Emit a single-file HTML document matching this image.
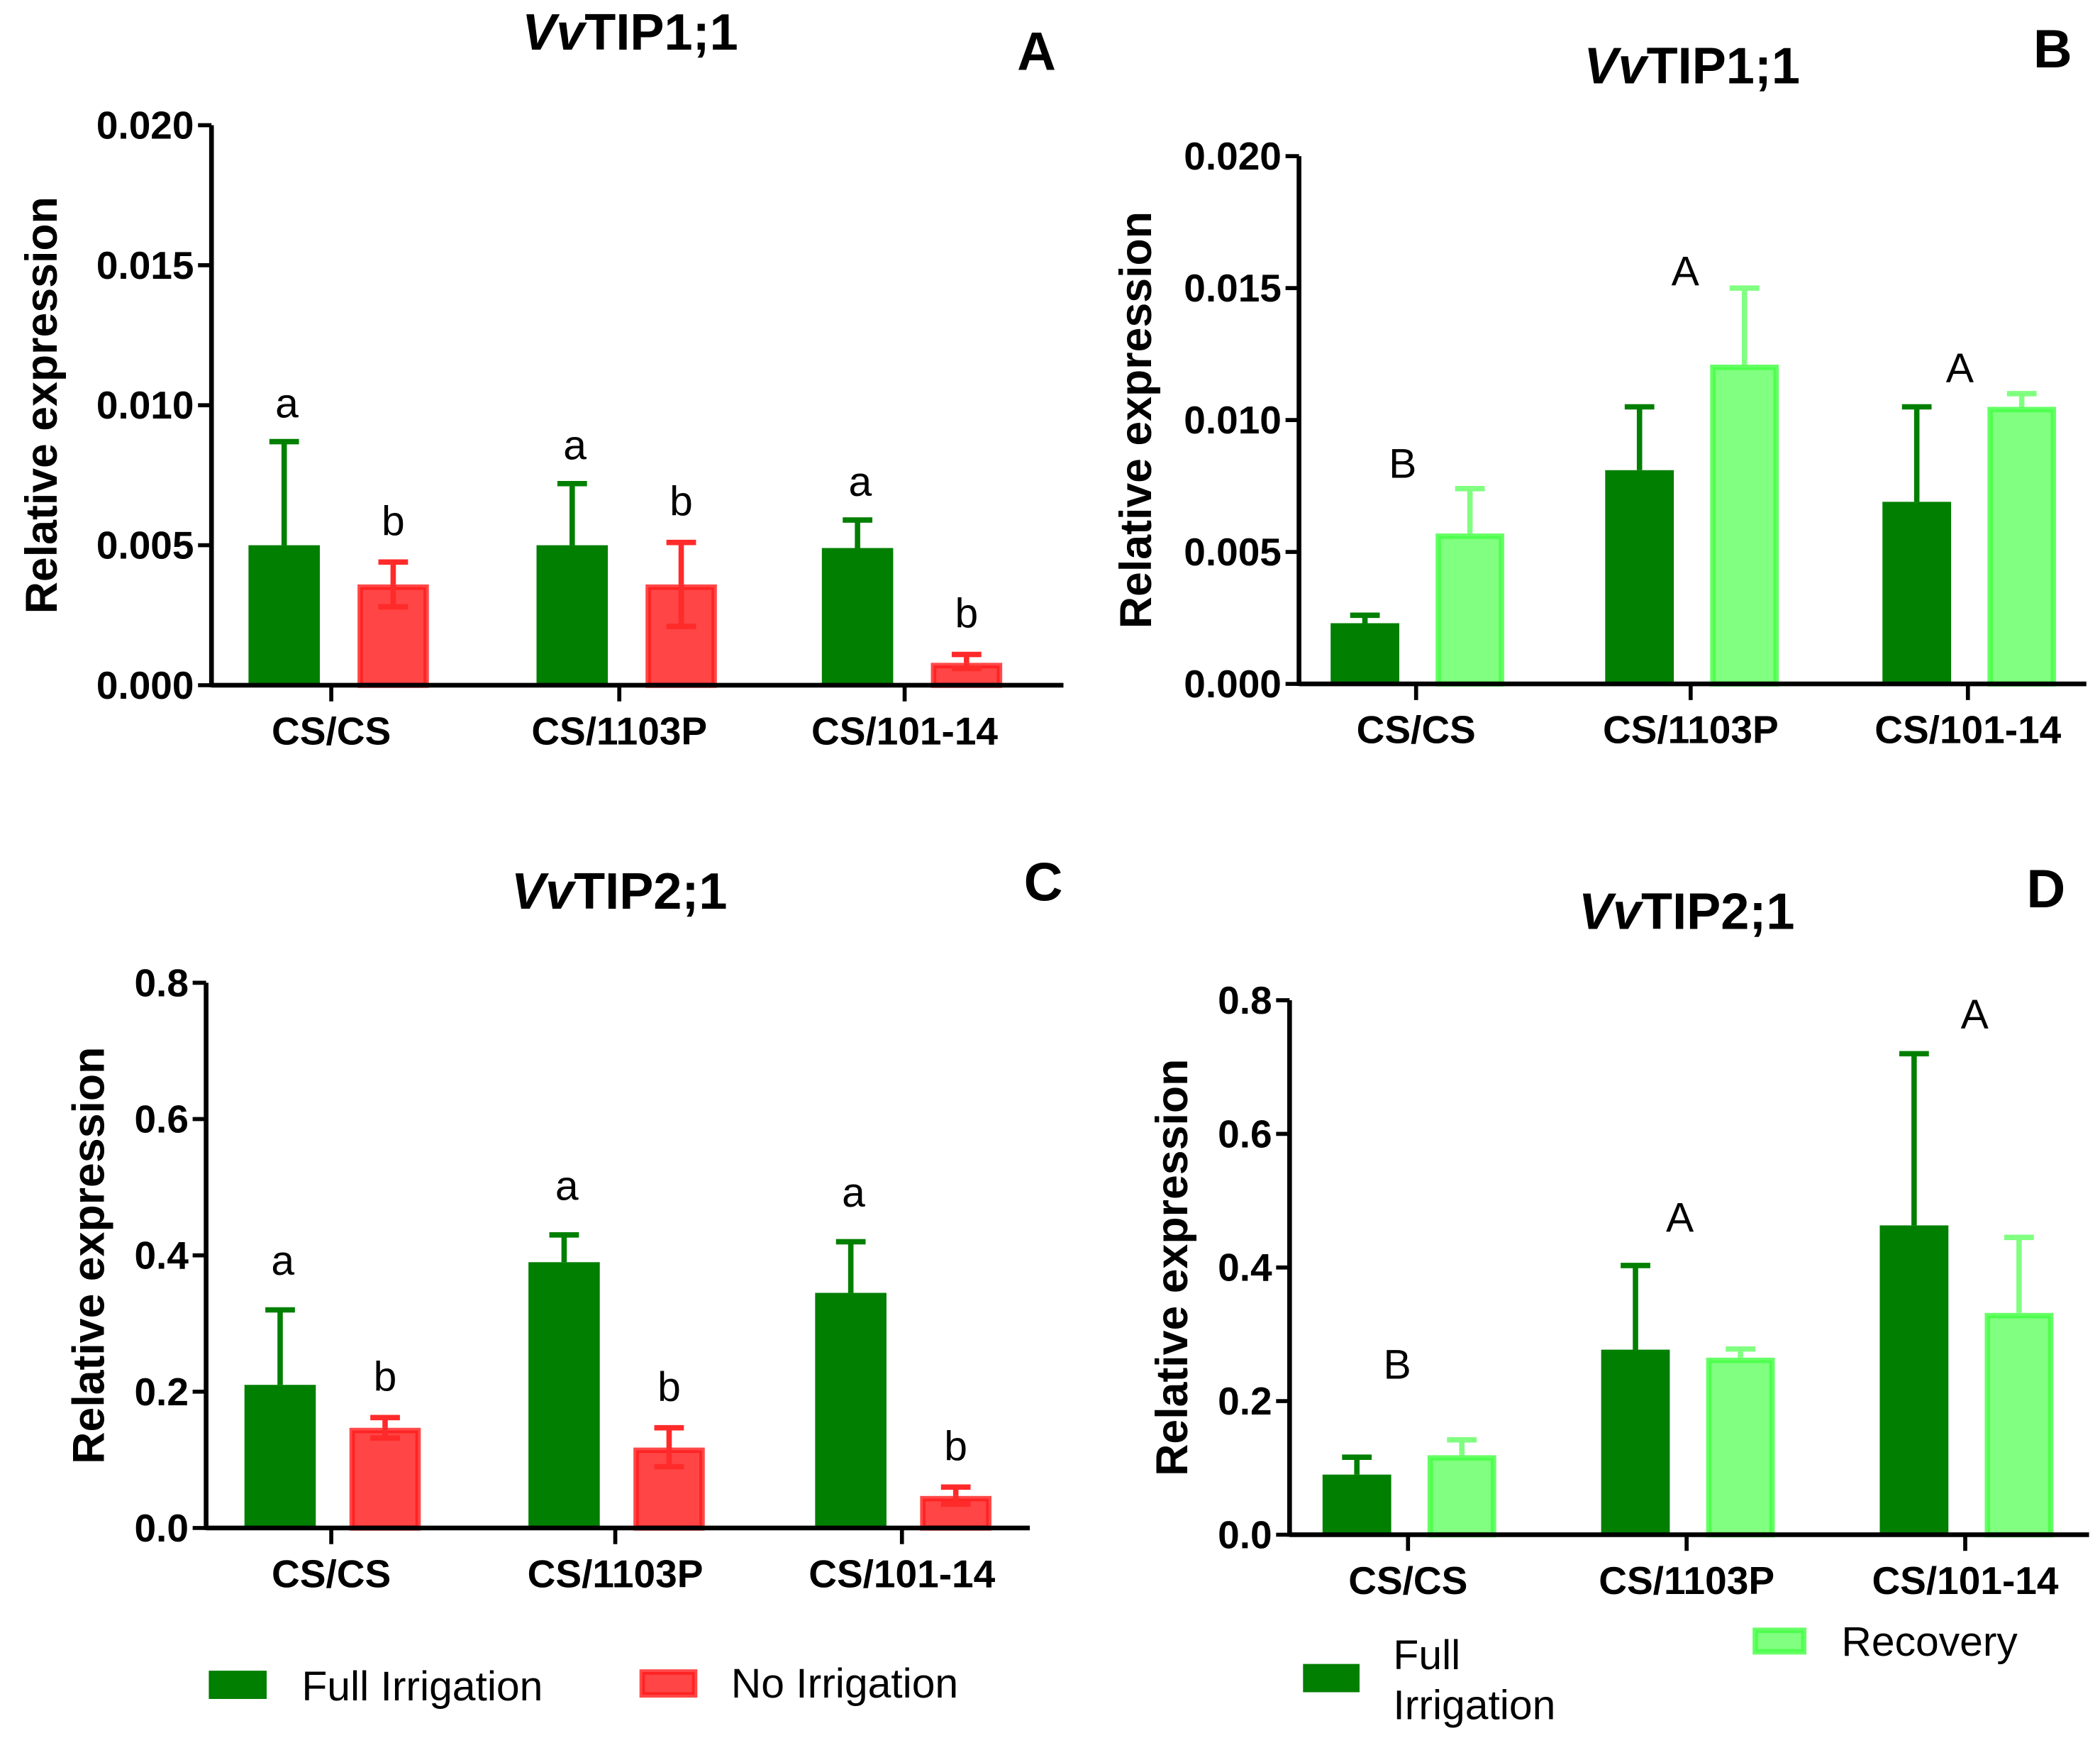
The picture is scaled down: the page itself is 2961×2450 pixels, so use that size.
<!DOCTYPE html>
<html><head><meta charset="utf-8"><style>
html,body{margin:0;padding:0;background:#fff}
svg{display:block}
text{font-family:"Liberation Sans Narrow","Liberation Sans",sans-serif}
</style></head><body>
<svg id="fig" width="2961" height="2450" viewBox="0 0 1560 1291" xmlns="http://www.w3.org/2000/svg"></svg>
<script>
const categories = ["CS/CS","CS/1103P","CS/101-14"];
const aFull = [0.0050,0.0050,0.0049];
const aFullErr = [0.0087,0.0072,0.0059];
const aNo = [0.0036,0.0036,0.0008];
const aNoErrHi = [0.0044,0.0051,0.0011];
const aNoErrLo = [0.0028,0.0021,0.0006];
const aLetters1 = ["a","a","a"];
const aLetters2 = ["b","b","b"];
const bFull = [0.0023,0.0081,0.0069];
const bFullErr = [0.0026,0.0105,0.0105];
const bRec = [0.0057,0.0121,0.0105];
const bRecErr = [0.0074,0.0150,0.0110];
const bLetters = ["B","A","A"];
const cFull = [0.21,0.39,0.345];
const cFullErr = [0.32,0.43,0.42];
const cNo = [0.147,0.118,0.047];
const cNoErrHi = [0.162,0.147,0.060];
const cNoErrLo = [0.132,0.090,0.035];
const cLetters1 = ["a","a","a"];
const cLetters2 = ["b","b","b"];
const dFull = [0.090,0.277,0.463];
const dFullErr = [0.116,0.403,0.720];
const dRec = [0.119,0.265,0.332];
const dRecErr = [0.142,0.278,0.445];
const dLetters = ["B","A","A"];
const ticksSmall = [0,0.005,0.010,0.015,0.020];
const ticksSmallLabels = ["0.000","0.005","0.010","0.015","0.020"];
const ticksBig = [0,0.2,0.4,0.6,0.8];
const ticksBigLabels = ["0.0","0.2","0.4","0.6","0.8"];

const NS="http://www.w3.org/2000/svg";
const svg=document.getElementById('fig');
function el(tag,attrs,parent,text){const e=document.createElementNS(NS,tag);for(const k in attrs)e.setAttribute(k,attrs[k]);if(text!==undefined)e.textContent=text;(parent||svg).appendChild(e);return e;}

function panel(cfg){
  const g=el('g',{});
  
  
  const y=v=>cfg.y0-(v/cfg.max)*(cfg.y0-cfg.yTop);
  const t=el('text',{x:cfg.titleX,y:cfg.titleY,'text-anchor':'middle','font-size':38,'font-weight':'bold'},g);
  
  
  el('tspan',{'font-style':'italic'},t,'Vv');
  el('tspan',{},t,cfg.title);
  const pl=el('text',{x:cfg.letterX,y:cfg.letterY,'text-anchor':'middle','font-size':40,'font-weight':'bold'},g,cfg.letter);
  
  
  const yl=el('text',{transform:`translate(${cfg.ylabX},${(cfg.y0+cfg.yTop)/2}) rotate(-90)`,'text-anchor':'middle','font-size':33,'font-weight':'bold',style:'font-family:"Liberation Sans",sans-serif'},g,'Relative expression');
  
  
  function bar(cx,v,fill,stroke,cls){
    const w=cfg.bw;
    if(stroke){
      const r=el('rect',{x:cx-w/2+2,y:y(v)+2,width:w-4,height:cfg.y0-y(v)-2,fill:fill,stroke:stroke,'stroke-width':4,'stroke-opacity':0.8},g);
      
      
    } else {
      const r=el('rect',{x:cx-w/2,y:y(v),width:w,height:cfg.y0-y(v),fill:fill},g);
      
      
    }
  }
  function err(cx,from,to,color){
    const l=el('line',{x1:cx,x2:cx,y1:y(from),y2:y(to),stroke:color,'stroke-width':4},g);
    
    
    const c=el('line',{x1:cx-11,x2:cx+11,y1:y(to),y2:y(to),stroke:color,'stroke-width':4},g);
    
    
  }
  function letterAt(x,yy,s){
    const lt=el('text',{x:x,y:yy,'text-anchor':'middle','font-size':31,style:'font-family:"Liberation Sans",sans-serif'},g,s);
    
    
  }
  categories.forEach((c,i)=>{
    const cx=cfg.cats[i];
    const g1=cx+cfg.off1, g2=cx+cfg.off2;
    bar(g1,cfg.s1[i],'#007f00',null,'bar-full-irrigation');
    err(g1,cfg.s1[i],cfg.e1[i],'#007f00');
    bar(g2,cfg.s2[i],cfg.fill2,cfg.stroke2,cfg.name2);
    err(g2,cfg.s2[i],cfg.e2hi[i],cfg.err2);
    if(cfg.e2lo) err(g2,cfg.s2[i],cfg.e2lo[i],cfg.err2);
    if(cfg.l1) letterAt(g1+2,y(cfg.e1[i])-cfg.l1Off,cfg.l1[i]);
    if(cfg.l2) letterAt(g2,y(cfg.e2hi[i])-20,cfg.l2[i]);
    if(cfg.lg) letterAt(cx+cfg.lgOff[i],cfg.lgY[i],cfg.lg[i]);
    const tk=el('line',{x1:cx,x2:cx,y1:cfg.y0,y2:cfg.y0+12,stroke:'#000','stroke-width':3},g);
    
    
    const xl=el('text',{x:cx,y:cfg.y0+44,'text-anchor':'middle','font-size':29,'font-weight':'bold'},g,c);
    
    
  });
  const ya=el('line',{x1:cfg.ax,x2:cfg.ax,y1:cfg.yTop,y2:cfg.y0+1.5,stroke:'#000','stroke-width':3.5},g);
  
  
  const xa=el('line',{x1:cfg.ax,x2:cfg.xEnd,y1:cfg.y0,y2:cfg.y0,stroke:'#000','stroke-width':3.5},g);
  
  
  cfg.ticks.forEach((v,i)=>{
    const tk=el('line',{x1:cfg.ax-10,x2:cfg.ax,y1:y(v),y2:y(v),stroke:'#000','stroke-width':3},g);
    
    
    const tl=el('text',{x:cfg.ax-13,y:y(v)+10,'text-anchor':'end','font-size':29,'font-weight':'bold'},g,cfg.tickLabels[i]);
    
    
  });
}

panel({name:'panel-a',name2:'bar-no-irrigation',title:'TIP1;1',titleX:468,titleY:37,letter:'A',letterX:770,letterY:52,ylabX:42,
  ax:157,xEnd:790,y0:509,yTop:93,max:0.020,cats:[246,460,672],off1:-35,off2:46,bw:53,
  s1:aFull,e1:aFullErr,s2:aNo,e2hi:aNoErrHi,e2lo:aNoErrLo,fill2:'#ff4545',stroke2:'#ff1a1a',err2:'#ff2a2a',
  l1:aLetters1,l1Off:18,l2:aLetters2,ticks:ticksSmall,tickLabels:ticksSmallLabels});
panel({name:'panel-b',name2:'bar-recovery',title:'TIP1;1',titleX:1257,titleY:62,letter:'B',letterX:1525,letterY:50,ylabX:855,
  ax:965,xEnd:1550,y0:508,yTop:116,max:0.020,cats:[1052,1256,1462],off1:-38,off2:40,bw:51,
  s1:bFull,e1:bFullErr,s2:bRec,e2hi:bRecErr,fill2:'#80ff80',stroke2:'#40ff40',err2:'#80ff80',
  lg:bLetters,lgOff:[-10,-4,-6],lgY:[355,212,284],ticks:ticksSmall,tickLabels:ticksSmallLabels});
panel({name:'panel-c',name2:'bar-no-irrigation',title:'TIP2;1',titleX:460,titleY:675,letter:'C',letterX:775,letterY:669,ylabX:77,
  ax:153,xEnd:765,y0:1135,yTop:730,max:0.8,cats:[246,457,670],off1:-38,off2:40,bw:53,
  s1:cFull,e1:cFullErr,s2:cNo,e2hi:cNoErrHi,e2lo:cNoErrLo,fill2:'#ff4545',stroke2:'#ff1a1a',err2:'#ff2a2a',
  l1:cLetters1,l1Off:26,l2:cLetters2,ticks:ticksBig,tickLabels:ticksBigLabels});
panel({name:'panel-d',name2:'bar-recovery',title:'TIP2;1',titleX:1253,titleY:690,letter:'D',letterX:1520,letterY:674,ylabX:882,
  ax:958,xEnd:1552,y0:1140,yTop:743,max:0.8,cats:[1046,1253,1460],off1:-38,off2:40,bw:51,
  s1:dFull,e1:dFullErr,s2:dRec,e2hi:dRecErr,fill2:'#80ff80',stroke2:'#40ff40',err2:'#80ff80',
  lg:dLetters,lgOff:[-8,-5,7],lgY:[1024,915,764],ticks:ticksBig,tickLabels:ticksBigLabels});

function legendBox(x,y,w,h,fill,stroke,name){
  const r=el('rect',stroke?{x:x+2,y:y+2,width:w-4,height:h-4,fill:fill,stroke:stroke,'stroke-width':4,'stroke-opacity':0.8}:{x:x,y:y,width:w,height:h,fill:fill});
  
  
}
function legendText(x,y,s,name){
  const t=el('text',{x:x,y:y,'font-size':31,style:'font-family:"Liberation Sans",sans-serif'},svg,s);
  
  
}
legendBox(155,1241,43,21,'#007f00',null,'legend-swatch-full-irrigation');
legendText(224,1263,'Full Irrigation','legend-label-full-irrigation');
legendBox(475,1240,43,21,'#ff4545','#ff1a1a','legend-swatch-no-irrigation');
legendText(543,1261,'No Irrigation','legend-label-no-irrigation');
legendBox(968,1236,42,21,'#007f00',null,'legend-swatch-full-irrigation-right');
legendText(1035,1240,'Full','legend-label-full');
legendText(1035,1277,'Irrigation','legend-label-irrigation');
legendBox(1302,1209,40,20,'#80ff80','#40ff40','legend-swatch-recovery');
legendText(1368,1230,'Recovery','legend-label-recovery');
</script>
</body></html>
